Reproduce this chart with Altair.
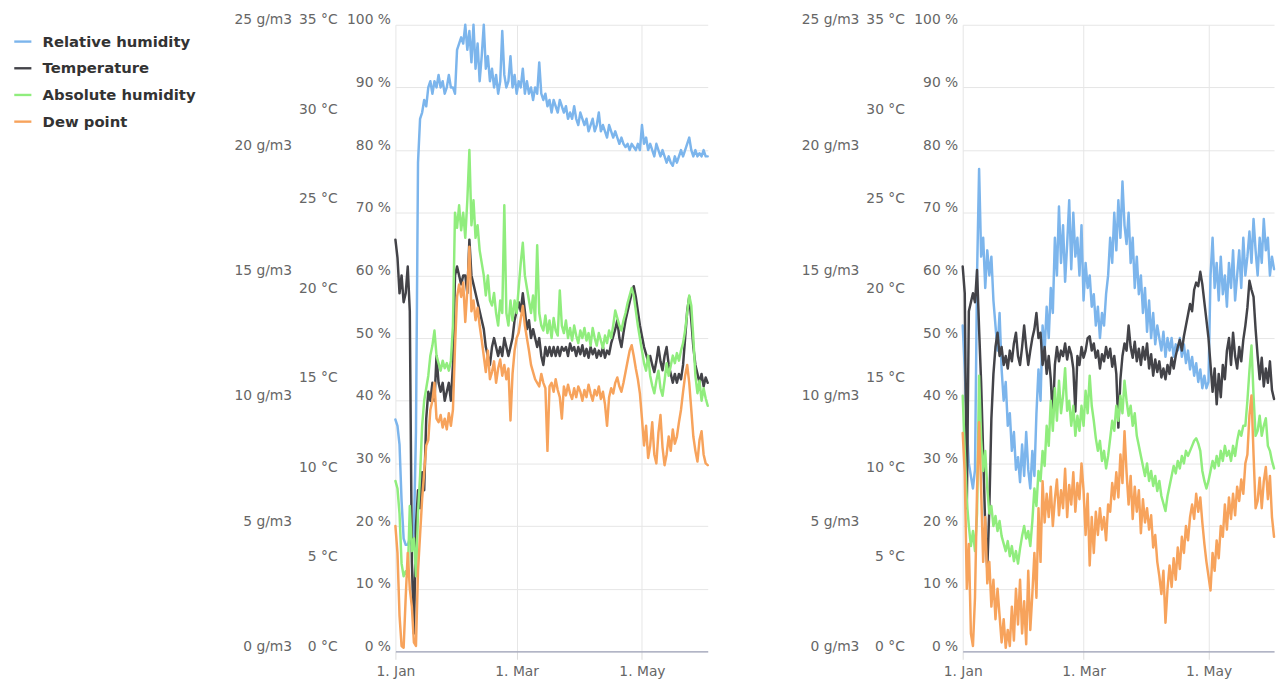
import altair as alt
import pandas as pd

YEAR = 2019
SERIES = ["Relative humidity", "Temperature", "Absolute humidity", "Dew point"]
COLORS = ["#7cb5ec", "#434348", "#90ed7d", "#f7a35c"]

PCT_TICKS = [0, 10, 20, 30, 40, 50, 60, 70, 80, 90, 100]
DEG_TICKS = [0, 5, 10, 15, 20, 25, 30, 35]
GM3_TICKS = [0, 5, 10, 15, 20, 25]
X_TICKS = [(1, 1), (3, 1), (5, 1)]

# ---------------- left panel (daily values from 1 Jan) ----------------
rh_left = [
    37, 36, 33, 24, 18, 17, 17, 18, 17, 19,
    35, 78, 85, 86, 88, 87, 90, 91, 89, 91,
    90, 92, 90, 91, 89, 90, 92, 90, 90, 89,
    96, 97, 98, 97, 100, 96, 99, 94, 100, 93,
    97, 91, 95, 100, 93, 95, 91, 93, 90, 92,
    89, 91, 99, 92, 90, 91, 95, 90, 92, 89,
    91, 90, 93, 89, 91, 89, 90, 88, 90, 89,
    94, 89, 88, 89, 87, 88, 86, 88, 87, 86,
    88, 87, 86, 87, 85, 86, 85, 87, 85, 84,
    86, 85, 84, 85, 83, 84, 85, 83, 84, 86,
    83, 84, 83, 82, 84, 83, 82, 83, 82, 81,
    82, 81, 80.5, 81, 80, 81, 80.5, 80, 81, 80,
    84, 81, 82, 80, 81, 80, 79, 81, 80, 79,
    80, 79, 78, 79, 78, 77.5, 79, 78, 79, 80,
    79, 80, 81, 82, 80, 79, 80, 79, 79.5, 79,
    80, 79, 79,
]
temp_left = [
    23, 22, 20, 21, 19.5, 20, 21.5, 19, 5, 1,
    7, 9, 8, 10, 9, 13, 14.5, 14, 15, 14,
    16.5, 15, 14.5, 15, 14, 14.5, 15, 14, 16, 21,
    21.5, 21, 20.5, 21, 21, 20, 23, 21, 20.5, 20,
    19.5, 19, 18.5, 18, 17, 16.5, 16, 17, 17.5, 17,
    16.5, 17, 16.5, 17.5, 17, 16.5, 17, 17.5, 18.5, 19,
    19.5, 19, 20, 19, 18, 18.5, 17.5, 18, 17.5, 17,
    17.5, 16.5, 16, 17, 16.5, 17, 16.5, 17, 16.5, 17,
    16.5, 17, 16.8, 17, 16.5, 17.2, 16.8, 17, 16.5, 17,
    16.6, 17.1, 16.5, 16.9, 16.4, 17, 16.6, 16.9, 16.4, 16.8,
    16.5, 17, 16.4, 16.8, 16.6, 17.2, 17.6, 18, 18.5, 17.5,
    17, 17.8, 18.5, 19, 19.5, 20, 20.4, 19.8, 19, 18.2,
    17.6, 17, 16.6, 16.2, 16.5, 16, 15.6, 16.2, 17, 16.2,
    15.7, 16.5, 17, 16, 15.5, 15, 15.5, 15, 15.5, 15.2,
    16, 17.5, 19, 19.8, 18.5, 17, 16, 15.5, 15, 15.5,
    14.8, 15.3, 15,
]
abs_left = [
    6.8, 6.5, 5.5, 3.5, 3.0, 3.2, 3.0, 5.8, 4.0, 4.5,
    3.0, 5.5, 7.0, 9.0, 10.0, 10.5, 11.0, 11.8, 12.2, 12.8,
    11.8, 11.5, 11.2, 11.6, 11.3, 11.5, 11.2, 11.6, 13.0, 17.5,
    16.9, 17.8, 16.8, 17.5, 16.5, 18.0, 20.0, 17.0, 18.0, 16.5,
    17.0, 16.0, 15.5, 15.0, 14.2, 15.0, 14.0, 13.8, 14.3, 13.5,
    13.0, 14.0, 13.5, 17.8, 13.5, 13.0, 14.0, 13.2, 14.0, 13.5,
    14.5, 15.5, 16.3, 15.0, 14.5, 14.0, 13.5, 14.2, 13.2, 16.2,
    13.5, 13.0, 12.8, 13.4, 12.7, 13.2, 12.5, 13.3, 12.8, 12.6,
    14.4, 13.0, 12.7, 13.2, 12.5, 12.9, 12.4, 13.0, 12.6, 12.3,
    12.8, 12.5, 12.9, 12.4, 12.7, 12.2, 12.9, 12.5, 12.2, 12.7,
    12.4, 12.1, 12.6, 12.3, 12.8, 12.5, 13.0, 13.6, 13.3, 13.0,
    12.8, 13.2, 13.5, 13.9, 14.2, 14.5, 14.2, 13.6, 13.0, 12.5,
    12.0, 11.5, 11.2, 11.8, 11.0, 10.6, 10.3, 10.8, 11.2, 10.5,
    10.2, 10.8, 11.5, 11.0, 11.4, 11.8, 11.5, 11.9, 11.6, 12.0,
    12.3, 12.8, 13.5, 14.2, 13.8, 12.5, 11.0, 10.3, 10.8, 10.0,
    10.5, 10.1, 9.8,
]
dew_left = [
    7, 5.5, 2.0, 0.3, 0.2, 3.0, 5.5, 3.5, 2.5, 0.5,
    0.3, 4.5, 6.5, 8.5, 10.0, 11.5, 11.8, 13.5, 14.0, 15.0,
    13.0, 12.8, 13.2, 12.5, 13.0, 12.4, 13.3, 12.6, 13.5, 17.0,
    19.8, 20.5, 19.8, 20.6, 18.4, 20.2, 22.6, 19.0, 19.6, 18.5,
    19.2, 18.2, 17.4, 16.5, 15.6, 16.8, 15.2, 15.6, 16.2, 15.0,
    15.8, 16.3, 15.4, 16.0, 15.2, 15.8, 12.9, 15.5, 16.8, 17.5,
    17.8, 18.6, 19.3, 18.2, 17.5, 16.8, 16.0, 15.6, 15.2, 15.0,
    14.8, 15.5, 15.0, 14.7, 11.2, 14.8, 15.0, 14.5, 15.2, 14.6,
    14.2, 13.0, 14.8, 14.3, 14.9, 14.4, 14.1, 14.7, 14.2, 14.8,
    14.5, 14.0, 14.6, 14.2, 14.9, 14.4, 14.0, 14.6, 14.3, 14.8,
    14.1, 14.5, 13.8, 12.6, 14.2, 14.7, 14.4, 15.0, 15.3, 14.8,
    14.5, 15.0, 15.6, 16.2, 16.8, 17.1, 16.5, 15.8, 15.2, 14.4,
    13.0, 11.5, 12.6, 10.8, 11.5, 12.8, 11.0, 10.5, 12.2, 13.2,
    11.4, 10.4, 11.0, 12.0, 11.2, 12.4, 11.6, 12.0, 12.8, 13.5,
    14.5, 15.4, 16.0, 15.0, 13.5, 12.0, 11.2, 10.6, 11.8, 12.3,
    11.0, 10.5, 10.4,
]

# ---------------- right panel ----------------
rh_right = [
    52, 45, 36, 30, 28, 26, 29, 60, 77, 63,
    66, 58, 64, 60, 63, 56, 52, 48, 54, 45,
    40, 43, 36, 38, 32, 35, 29, 31, 27, 33,
    28, 35, 29, 26, 32, 28, 38, 45, 40, 52,
    48, 55, 50, 58, 54, 66, 60, 71, 62, 68,
    59, 65, 72, 61, 70, 63, 66, 60, 68, 56,
    62, 58, 60, 55, 57, 52, 55, 50, 54, 52,
    57, 60, 66, 62, 70, 64, 72, 66, 75, 68,
    65, 70, 62, 66, 58, 63, 57, 60, 54, 58,
    51, 56, 50, 54, 49, 52, 50, 48, 51, 47,
    50, 48, 50, 47, 49, 48, 50, 47, 49, 46,
    48, 45, 47, 44, 46, 43, 45, 42, 44, 42,
    43, 60, 66, 58, 62, 56, 63, 57, 60, 55,
    62, 58, 64, 56, 60, 64, 58, 66, 60, 63,
    67, 62, 69, 64, 60, 66, 62, 69, 64, 66,
    60, 63, 61,
]
temp_right = [
    21.5, 20, 8, 19, 19.5, 20, 19.5, 21.3, 18, 15,
    11, 7, 4.6, 8, 13, 15.5, 17, 17.8, 16.5, 17,
    16, 16.5, 15.8, 16.8, 16.2, 17.2, 17.8, 16.5, 16, 17,
    18.2, 17, 16, 16.8, 17.5, 18, 18.9, 17.5, 17.8, 16,
    17, 15.5, 16.5, 15.2, 13, 16, 17, 16.2, 16.8, 16.5,
    17.2, 16.3, 17, 16.6, 15.8, 13.4, 16.5, 16, 17, 16.4,
    16.8, 17.5, 17.6, 16.8, 17.2, 16.4, 16.8, 15.8, 16.6, 16.2,
    17, 16.4, 16.9, 15.9, 16.5, 15.5, 12.5, 15.2, 16.5, 17.2,
    16.8, 18.2, 17, 16.4, 17.3, 16.2, 16.9, 16, 17, 16.3,
    17.2, 15.8, 16.6, 15.4, 16.3, 15.6, 16.2, 15.3, 15.8, 15.2,
    16, 15.5, 16.4, 15.8, 16.5, 17, 17.4, 16.8, 17.6, 18.2,
    18.8, 19.4, 19, 20.2, 20.6, 20.4, 21.2, 20.5, 19.5, 18.5,
    17.5, 16, 14.5, 15.8, 13.8, 15.5, 14.2, 16, 15.2, 16.8,
    17.5, 16, 17.8, 16.5, 15.8, 17, 16.2, 17.4, 18.2, 19.2,
    20.7, 20.2, 19.8, 18, 16.5, 15.2, 16.4, 14.8, 15.8, 15,
    16.2, 14.6, 14.1,
]
abs_right = [
    10.2, 8.0, 6.0, 5.0, 4.2, 4.8, 4.0, 5.5, 11.0, 8.5,
    7.2, 8.0, 6.5, 5.5, 5.8, 5.0, 5.4, 4.8, 5.2, 4.6,
    4.3, 4.0, 4.4, 3.8, 4.2, 3.6, 4.0, 3.5, 4.1, 4.6,
    5.0, 4.5, 4.8, 4.2, 5.2, 6.5, 5.8, 7.2, 6.8, 8.0,
    7.4, 9.0, 8.2, 10.0, 8.8, 10.5, 9.2, 10.8, 9.5, 10.2,
    11.3, 9.6, 10.0, 9.0, 9.8, 8.6, 9.4, 8.8, 9.8, 9.0,
    10.4, 9.5, 11.0, 9.8, 9.2, 8.5, 8.0, 8.4, 7.6, 8.0,
    7.3, 7.8, 8.5, 9.2, 8.8, 9.8, 9.2, 10.2, 9.5, 10.8,
    10.0, 9.4, 9.8, 9.0, 9.5, 8.6, 8.2, 7.8, 7.4, 7.0,
    7.5, 6.8, 7.2, 6.6, 7.0, 6.4, 6.8, 6.2, 5.9, 5.6,
    6.2, 6.6, 7.0, 7.4, 7.1, 7.6, 7.3, 7.8, 7.5, 8.0,
    7.8, 8.0, 8.2, 8.4, 8.5, 8.3, 8.0, 7.2, 6.8, 6.5,
    6.8, 7.2, 7.6, 7.3, 7.8, 7.4, 8.0, 7.6, 8.2, 7.8,
    8.0, 7.6, 8.2, 7.8, 8.4, 8.8, 8.6, 9.0, 9.0, 10.0,
    11.2, 12.2, 10.2, 8.6, 8.8, 9.4, 8.6, 9.0, 9.3, 8.2,
    8.0, 7.6, 7.3,
]
dew_right = [
    12.2, 10, 3.5, 6, 1.0, 0.3, 3, 9, 12.8, 9,
    5, 7.5, 3.8, 5, 2.5, 4, 1.8, 3.5, 2, 0.5,
    1.8, 0.2, 1.2, 0.3, 2.5, 0.6, 3.5, 1.5, 4, 1,
    2.8, 0.4, 4.5, 1.2, 3.2, 5.5, 3, 8, 5, 9.5,
    7.2, 8.8, 7.5, 9.2, 7, 8.5, 9.6, 7.6, 9, 8,
    10.2, 7.5, 9.3, 8.2, 10, 7.8, 9.4, 8.5, 10.5, 9,
    6.5, 8.8, 4.8, 7.5, 5.5, 7.8, 6.5, 8, 6.8, 7.5,
    6.2, 8.2, 7.8, 9.4, 8.5, 10, 8.6, 11, 9.4, 12.3,
    10, 8.2, 9.8, 7.4, 9.2, 7.8, 9, 6.6, 8.5, 7.2,
    8, 6.8, 7.6, 5.8, 6.5, 5, 4.2, 3.2, 4.5, 1.6,
    3.5, 4.8, 3.6, 5.2, 4, 5.8, 4.6, 6.4, 5.5, 7,
    6.2, 7.5, 8.2, 7.4, 8.8, 7.8, 8.6, 7.2, 6, 5,
    4.2, 3.4, 5.5, 4.5, 6.2, 5.2, 7, 6.4, 8.2, 6.8,
    8.6, 7.4, 8.8, 7.6, 9.2, 8.4, 9.6, 8.8, 10.5, 11,
    13.2, 14.3, 11, 8, 8.4, 9.7, 8, 9.5, 10.3, 8.5,
    9.8, 7.5, 6.4,
]

FONT = "DejaVu Sans"
LABEL_COLOR = "#666666"
GRID_COLOR = "#e6e6e6"
PLOT_W_LEFT = 316
PLOT_W_RIGHT = 315
PLOT_H = 634


def frame(values, name):
    dates = pd.date_range(f"{YEAR}-01-01", periods=len(values), freq="D")
    return pd.DataFrame({"date": dates, "value": values, "series": name})


def dt(month, day):
    return alt.DateTime(year=YEAR, month=month, date=day)


x_enc = alt.X(
    "date:T",
    scale=alt.Scale(domain=[dt(1, 1), dt(6, 2)], nice=False),
    axis=alt.Axis(
        values=[dt(m, d) for m, d in X_TICKS],
        format="%-d. %b",
        title=None,
        grid=True,
        gridColor=GRID_COLOR,
        domainColor="#9ea2b8",
        domainWidth=1.5,
        tickColor="#dcdcdc",
        tickSize=8,
        labelPadding=5,
        labelFlush=False,
        labelFont=FONT,
        labelFontSize=14,
        labelColor=LABEL_COLOR,
    ),
)


def y_axis(unit, ticks, offset, grid):
    return alt.Axis(
        orient="left",
        offset=offset,
        values=ticks,
        labelExpr=f"datum.value + ' {unit}'",
        grid=grid,
        gridColor=GRID_COLOR,
        domain=False,
        ticks=False,
        labelPadding=5,
        labelOffset=-5,
        labelBaseline="middle",
        labelFlush=False,
        labelOverlap=False,
        labelFont=FONT,
        labelFontSize=14,
        labelColor=LABEL_COLOR,
        title=None,
    )


def panel(rh, temp, ah, dew, width, legend):
    color_scale = alt.Scale(domain=SERIES, range=COLORS)
    if legend:
        leg = alt.Legend(
            title=None,
            orient="none",
            legendX=-392,
            legendY=2,
            symbolType="stroke",
            symbolSize=300,
            symbolStrokeWidth=2.4,
            labelFont=FONT,
            labelFontSize=15,
            labelFontWeight="bold",
            labelColor="#333333",
            labelOffset=10,
            rowPadding=9,
            padding=5,
        )
    else:
        leg = None

    def line(df, maxv, axis):
        return (
            alt.Chart(df)
            .mark_line(strokeWidth=2.5, strokeJoin="round", strokeCap="round")
            .encode(
                x=x_enc,
                y=alt.Y("value:Q", scale=alt.Scale(domain=[0, maxv], nice=False, zero=True), axis=axis),
                color=alt.Color("series:N", scale=color_scale, legend=leg),
            )
        )

    layers = [
        line(frame(rh, SERIES[0]), 100, y_axis("%", PCT_TICKS, 0, True)),
        line(frame(temp, SERIES[1]), 35, y_axis("°C", DEG_TICKS, 54, False)),
        line(frame(ah, SERIES[2]), 25, y_axis("g/m3", GM3_TICKS, 100, False)),
        line(frame(dew, SERIES[3]), 35, None),
    ]
    return (
        alt.layer(*layers)
        .resolve_scale(y="independent")
        .properties(width=width, height=PLOT_H)
    )


left = panel(rh_left, temp_left, abs_left, dew_left, PLOT_W_LEFT, True)
right = panel(rh_right, temp_right, abs_right, dew_right, PLOT_W_RIGHT, False)

chart = (
    alt.hconcat(left, right, spacing=92)
    .resolve_scale(color="independent")
    .resolve_legend(color="independent")
    .properties(padding={"left": 0, "top": 1, "right": 0, "bottom": 0})
    .configure_view(stroke=None)
)

chart.save("out.html", embed_options={"renderer": "svg", "actions": False})
